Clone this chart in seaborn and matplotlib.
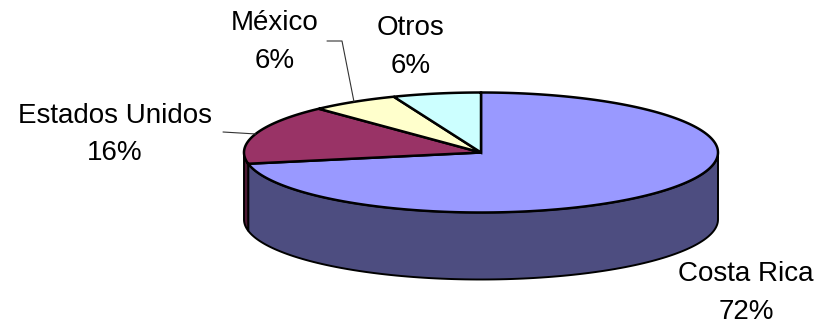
import numpy as np
import matplotlib
matplotlib.use("Agg")
import matplotlib.pyplot as plt
from matplotlib.patches import Polygon
import seaborn as sns

# Export destinations and their share (%)
categories = ["Costa Rica", "Estados Unidos", "México", "Otros"]
shares = [72, 16, 6, 6]
top_colors = ["#9999FF", "#993366", "#FFFFCC", "#CCFFFF"]
side_colors = ["#4D4D80", "#4D1A33", "#80805F", "#668080"]

sns.set_theme(style="white")
plt.rcParams["font.family"] = ["Liberation Sans", "DejaVu Sans"]

W, H = 823, 326
fig = plt.figure(figsize=(W / 100, H / 100), dpi=100)
ax = fig.add_axes([0, 0, 1, 1])
ax.set_xlim(0, W)
ax.set_ylim(H, 0)
ax.axis("off")

# Elliptical 3D pie geometry (pixel units)
cx, cy = 481.0, 152.5
ra, rb = 237.0, 60.0
depth = 67.0


def pt(theta_deg, dy=0.0):
    t = np.radians(theta_deg)
    return cx + ra * np.cos(t), cy - rb * np.sin(t) + dy


# Slice angle ranges, clockwise from 12 o'clock
total = float(sum(shares))
bounds = []
start = 90.0
for s in shares:
    end = start - 360.0 * s / total
    bounds.append((start, end))
    start = end

# Side walls: only the front half (180..360 degrees) is visible
for (a0, a1), col in zip(bounds, side_colors):
    hi, lo = a0, a1
    segs = []
    for shift in (0, 360, -360):
        h, l = hi + shift, lo + shift
        s0, s1 = max(l, 180.0), min(h, 360.0)
        if s1 > s0:
            segs.append((s0, s1))
    for s0, s1 in segs:
        ts = np.linspace(s0, s1, 120)
        top = [pt(t) for t in ts]
        bot = [pt(t, depth) for t in ts[::-1]]
        ax.add_patch(Polygon(top + bot, closed=True, facecolor=col,
                             edgecolor="black", linewidth=1.4, zorder=1))

# Top face wedges
for (a0, a1), col in zip(bounds, top_colors):
    ts = np.linspace(a0, a1, 200)
    verts = [(cx, cy)] + [pt(t) for t in ts]
    ax.add_patch(Polygon(verts, closed=True, facecolor=col,
                         edgecolor="black", linewidth=1.8, joinstyle="miter",
                         zorder=2))

# Labels: name on first line, percentage below
label_pos = {
    "Costa Rica": (746, 281, 319),
    "Estados Unidos": (115, 123, 160),
    "México": (275, 30, 68),
    "Otros": (411, 35, 73),
}
fs = 20
for name, val in zip(categories, shares):
    x, y1, y2 = label_pos[name]
    ax.text(x, y1, name, ha="center", va="baseline", fontsize=fs, color="black")
    ax.text(x, y2, f"{val}%", ha="center", va="baseline", fontsize=fs, color="black")

# Leader lines toward the middle of the small slices
mid = {n: (b[0] + b[1]) / 2 for n, b in zip(categories, bounds)}
ex, ey = pt(mid["Estados Unidos"])
ax.plot([223, ex], [132, ey], color="#333333", lw=0.8, zorder=3)
mx, my = pt(mid["México"])
ax.plot([327, 342, mx], [41, 41, my], color="#333333", lw=0.8, zorder=3)

fig.savefig("out.png", dpi=100, facecolor="white")
